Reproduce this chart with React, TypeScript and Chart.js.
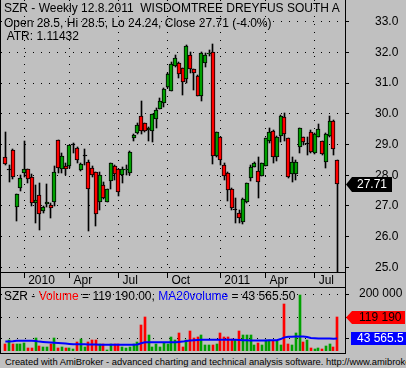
import React, { useEffect, useRef } from 'react';
import { Chart, registerables } from 'chart.js';
Chart.register(...registerables);

const FONT = '"Liberation Sans", Arial, Helvetica, sans-serif';
const GREEN = '#00a000';
const RED = '#ff0000';
const BLUE = '#0000ff';
const BG = '#c0c0c0';

// Weekly OHLC (Dec 2009 .. 12 Aug 2011)
const openP = [28.58, 28.17, 28.81, 26.95, 27.59, 28.06, 28.19, 27.94, 27.10, 27.35,
  26.83, 27.05, 27.02, 27.12, 29.14, 28.20, 28.30, 28.30, 29.00, 28.88,
  28.16, 28.64, 28.44, 28.24, 28.09, 27.14, 27.68, 27.14, 27.81, 28.31,
  28.19, 28.00, 28.18, 28.06, 29.22, 29.36, 29.93, 29.69, 29.47, 29.45,
  29.82, 30.17, 30.36, 30.86, 30.75, 31.57, 31.64, 31.48, 31.12, 31.92,
  31.45, 31.23, 30.59, 31.64, 31.94, 32.02, 28.64, 29.23, 28.33, 28.06,
  27.54, 26.87, 26.76, 26.49, 27.12, 27.90, 28.28, 28.15, 27.98, 28.31,
  29.12, 29.45, 28.60, 29.28, 29.89, 29.20, 28.04, 28.04, 28.91, 29.23,
  29.03, 29.40, 28.71, 29.25, 29.12, 28.44, 29.29, 29.78, 28.5];
const highP = [29.40, 28.33, 28.84, 27.40, 28.00, 29.11, 28.20, 28.03, 27.68, 27.74,
  27.00, 27.71, 27.09, 28.30, 29.14, 28.71, 28.39, 29.00, 29.04, 28.93,
  28.40, 28.85, 28.50, 28.30, 28.11, 28.11, 27.79, 27.55, 28.40, 28.33,
  28.20, 28.28, 28.33, 28.79, 29.33, 29.70, 30.43, 29.70, 29.58, 30.00,
  30.18, 30.50, 30.83, 31.32, 31.70, 31.92, 31.70, 31.50, 32.25, 32.02,
  31.46, 31.25, 32.00, 31.97, 32.08, 32.26, 29.42, 29.25, 28.39, 28.10,
  27.58, 27.25, 26.87, 27.25, 27.76, 28.33, 28.44, 28.60, 28.40, 29.22,
  29.53, 29.46, 29.27, 29.96, 30.02, 29.22, 28.60, 28.50, 29.55, 29.25,
  29.23, 29.47, 29.36, 29.67, 29.13, 29.36, 29.94, 29.80, 28.5];
const lowP = [28.33, 27.79, 27.87, 26.51, 27.50, 27.95, 27.76, 27.01, 26.44, 26.21,
  26.78, 26.97, 26.60, 27.01, 28.08, 28.08, 28.00, 28.24, 28.73, 28.41,
  28.14, 28.33, 26.19, 27.93, 26.35, 26.87, 27.22, 27.13, 27.55, 27.84,
  27.33, 27.74, 28.00, 28.00, 29.12, 29.34, 29.33, 29.42, 29.12, 29.09,
  29.55, 30.15, 30.21, 30.83, 30.74, 31.53, 31.18, 30.61, 30.99, 31.32,
  30.78, 30.57, 30.43, 31.53, 31.88, 28.36, 28.60, 28.33, 27.84, 27.17,
  26.87, 26.43, 26.43, 26.41, 27.10, 27.82, 28.26, 27.25, 27.97, 28.30,
  29.06, 28.39, 28.46, 29.09, 29.12, 27.91, 27.79, 27.85, 28.71, 28.98,
  28.66, 28.72, 28.70, 29.23, 28.65, 28.24, 29.25, 28.66, 24.24];
const closeP = [28.35, 28.17, 27.95, 27.39, 27.92, 28.19, 27.87, 27.08, 27.19, 26.73,
  26.97, 27.14, 26.94, 28.11, 28.24, 28.62, 28.19, 28.97, 29.00, 28.50,
  28.36, 28.64, 27.54, 28.00, 26.73, 28.00, 27.25, 27.54, 28.39, 28.03,
  27.46, 28.20, 28.20, 28.75, 29.30, 29.63, 29.44, 29.44, 29.53, 29.98,
  30.11, 30.42, 30.80, 31.30, 31.63, 31.81, 31.29, 31.05, 32.21, 31.45,
  31.32, 30.59, 31.97, 31.92, 31.99, 28.64, 29.40, 28.50, 27.98, 27.52,
  26.92, 26.87, 26.60, 27.22, 27.74, 28.28, 28.39, 27.79, 28.39, 29.20,
  29.42, 28.60, 29.25, 29.93, 29.33, 27.93, 28.44, 28.44, 29.53, 29.09,
  29.03, 28.75, 29.34, 29.50, 28.68, 29.34, 29.77, 28.86, 27.71];
const volume = [23000, 37000, 23000, 23000, 23000, 27000, 12000, 9000, 44000, 16000,
  13000, 13000, 26000, 44000, 12000, 13000, 12000, 12000, 8000, 33000,
  41000, 13000, 32000, 40000, 40000, 25000, 25000, 5000, 25000, 25000,
  25000, 13000, 11000, 14000, 25000, 30000, 90000, 121000, 58000, 14000,
  23000, 14000, 28000, 26000, 51000, 37000, 65000, 13000, 37000, 69000,
  47000, 51000, 55000, 20000, 21000, 21000, 23000, 62000, 49000, 49000,
  42000, 40000, 69000, 56000, 55000, 55000, 20000, 27000, 20000, 37000,
  37000, 36000, 36000, 21000, 166000, 23000, 21000, 62000, 198000, 30000,
  40000, 9000, 8000, 9000, 8000, 16000, 23000, 13000, 119190];
const ma20 = [33000, 33000, 34000, 36000, 36000, 36000, 36000, 36000, 35000, 33000,
  32000, 31000, 30000, 29000, 28000, 27000, 26000, 25000, 24000, 24000,
  24000, 24000, 23000, 23000, 23000, 22000, 22000, 22000, 22000, 22000,
  22000, 22000, 22000, 22000, 22000, 23000, 27000, 31000, 31000, 31000,
  31000, 31000, 31000, 31000, 31000, 31000, 32000, 33000, 35000, 37000,
  38000, 39000, 40000, 40000, 40000, 40000, 40000, 40000, 40000, 40000,
  40000, 40000, 39000, 38000, 38000, 37000, 37000, 37000, 37000, 37000,
  38000, 38000, 38000, 42000, 48000, 50000, 50000, 51000, 51000, 51000,
  49000, 46000, 45000, 44000, 44000, 44000, 44000, 43000, 43565.5];
const atrValue = 1.11432;

const sepIndex = [5, 17, 30, 43, 57, 69, 82];
const sepLabels = ['2010', 'Apr', 'Jul', 'Oct', '2011', 'Apr', 'Jul'];
const priceTicks = [25, 26, 27, 28, 29, 30, 31, 32, 33];
const volTicks = [43565.5, 119190, 200000];

const X_MIN = -1.15;
const X_MAX = 90.05;
const P_MIN = 24.847;
const P_MAX = 33.707;
const V_MAX = 221600;

function fmtSpace(v: number, dec: number) {
  const s = v.toFixed(dec);
  const parts = s.split('.');
  const intS = parts[0].replace(/\B(?=(\d{3})+(?!\d))/g, ' ');
  return parts.length > 1 ? intS + '.' + parts[1] : intS;
}

const snapPlugin = {
  id: 'snap',
  beforeDatasetsDraw(chart: any) {
    chart.data.datasets.forEach((_ds: any, di: number) => {
      const meta = chart.getDatasetMeta(di);
      if (meta.type !== 'bar') return;
      meta.data.forEach((el: any) => {
        const w = Math.round(el.width);
        el.x = w % 2 === 1 ? Math.floor(el.x) + 0.5 : Math.round(el.x);
        const top = Math.round(Math.min(el.y, el.base));
        let bot = Math.round(Math.max(el.y, el.base));
        if (bot - top < 1) bot = top + 1;
        if (el.y <= el.base) { el.y = top; el.base = bot; } else { el.y = bot; el.base = top; }
      });
    });
  },
};

function tag(ctx: CanvasRenderingContext2D, x0: number, y: number, x1: number, h: number, tip: number, fill: string, text: string, tx: number, color: string) {
  ctx.save();
  ctx.beginPath();
  ctx.moveTo(x0, y);
  ctx.lineTo(x0 + tip, y - h / 2);
  ctx.lineTo(x1, y - h / 2);
  ctx.lineTo(x1, y + h / 2);
  ctx.lineTo(x0 + tip, y + h / 2);
  ctx.closePath();
  ctx.fillStyle = fill;
  ctx.fill();
  ctx.fillStyle = color;
  ctx.font = '12px ' + FONT;
  ctx.textBaseline = 'middle';
  ctx.textAlign = 'left';
  ctx.fillText(text, tx, y + 0.5);
  ctx.restore();
}

const priceOverlay = {
  id: 'priceOverlay',
  afterDraw(chart: any) {
    const { ctx, chartArea: ca, scales } = chart;
    ctx.save();
    ctx.strokeStyle = '#000';
    ctx.lineWidth = 1;
    ctx.setLineDash([]);
    ctx.beginPath();
    ctx.moveTo(0.5, 0); ctx.lineTo(0.5, chart.height);
    ctx.moveTo(ca.right + 0.5, 0); ctx.lineTo(ca.right + 0.5, chart.height);
    ctx.moveTo(0, ca.bottom + 0.5); ctx.lineTo(ca.right, ca.bottom + 0.5);
    ctx.moveTo(0, chart.height - 0.5); ctx.lineTo(ca.right, chart.height - 0.5);
    ctx.stroke();
    ctx.restore();
    const last = closeP[closeP.length - 1];
    const y = Math.round(scales.y.getPixelForValue(last)) + 0.5;
    tag(ctx, ca.right + 1, y, ca.right + 47, 15, 6, '#000', last.toFixed(2), ca.right + 12, '#ffffff');
  },
};

const volOverlay = {
  id: 'volOverlay',
  afterDraw(chart: any) {
    const { ctx, chartArea: ca, scales } = chart;
    ctx.save();
    ctx.strokeStyle = '#000';
    ctx.lineWidth = 1;
    ctx.setLineDash([]);
    ctx.beginPath();
    ctx.moveTo(0.5, 0); ctx.lineTo(0.5, chart.height);
    ctx.moveTo(ca.right + 0.5, 0); ctx.lineTo(ca.right + 0.5, chart.height);
    ctx.moveTo(0, chart.height - 0.5); ctx.lineTo(ca.right, chart.height - 0.5);
    ctx.stroke();
    ctx.restore();
    const lastV = volume[volume.length - 1];
    const lastMa = ma20[ma20.length - 1];
    const yv = Math.round(scales.y.getPixelForValue(lastV)) + 0.5;
    const ym = Math.round(scales.y.getPixelForValue(lastMa)) - 0.5;
    tag(ctx, ca.right + 1, yv, chart.width - 1, 13, 6, RED, fmtSpace(lastV, 0), ca.right + 14, '#000');
    tag(ctx, ca.right + 6, ym, chart.width, 13, 0, BLUE, fmtSpace(lastMa, 1), ca.right + 12, '#ffffff');
  },
};

export default function App() {
  const pRef = useRef<HTMLCanvasElement>(null);
  const vRef = useRef<HTMLCanvasElement>(null);

  useEffect(() => {
    const n = closeP.length;
    const idx = Array.from({ length: n }, (_, i) => i);
    const isDoji = (i: number) => Math.abs(closeP[i] - openP[i]) < 0.005;
    const bodyColor = (i: number) => (isDoji(i) ? '#000' : closeP[i] > openP[i] ? GREEN : RED);
    const volColor = (i: number) => (closeP[i] >= openP[i] ? GREEN : RED);
    const tickFont = { family: FONT, size: 12 };

    const pc = new Chart(pRef.current as HTMLCanvasElement, {
      type: 'bar',
      data: {
        datasets: [
          {
            label: 'body',
            data: idx.map((i) => ({ x: i, y: isDoji(i) ? [openP[i] - 0.016, closeP[i] + 0.016] : [openP[i], closeP[i]] })) as any,
            backgroundColor: idx.map(bodyColor),
            borderColor: '#000',
            borderWidth: 1,
            borderSkipped: false,
            barThickness: 4,
            grouped: false,
            order: 1,
          } as any,
          {
            label: 'wick',
            data: idx.map((i) => ({ x: i, y: [lowP[i], highP[i]] })) as any,
            backgroundColor: '#000',
            borderWidth: 0,
            barThickness: 1,
            grouped: false,
            order: 2,
          } as any,
        ],
      },
      options: {
        responsive: false,
        animation: false,
        events: [],
        layout: { padding: { left: 1, right: 0, top: 0, bottom: 0 }, autoPadding: false } as any,
        plugins: { legend: { display: false }, tooltip: { enabled: false }, title: { display: false } },
        scales: {
          x: {
            type: 'linear',
            position: 'bottom',
            offset: false,
            min: X_MIN,
            max: X_MAX,
            afterBuildTicks: (s: any) => { s.ticks = sepIndex.map((v) => ({ value: v })); },
            afterFit: (s: any) => { s.height = 16; s.paddingLeft = 0; s.paddingRight = 0; },
            grid: { offset: false, color: '#000', lineWidth: 1, drawTicks: true, tickLength: 6, tickColor: '#000', tickBorderDash: [] },
            border: { display: false, dash: [1, 7] },
            ticks: {
              autoSkip: false, maxRotation: 0, minRotation: 0, align: 'start', labelOffset: 4, padding: -5,
              color: '#000', font: tickFont,
              callback: (v: any) => { const k = sepIndex.indexOf(Number(v)); return k >= 0 ? sepLabels[k] : ''; },
            },
          } as any,
          y: {
            position: 'right',
            min: P_MIN,
            max: P_MAX,
            afterBuildTicks: (s: any) => { s.ticks = priceTicks.map((v) => ({ value: v })); },
            afterFit: (s: any) => { s.width = 61; s.paddingTop = 0; s.paddingBottom = 0; },
            grid: { color: '#000', lineWidth: 1, drawTicks: true, tickLength: 4, tickColor: '#000', tickBorderDash: [] },
            border: { display: false, dash: [1, 7] },
            ticks: { padding: 26, color: '#000', font: tickFont, callback: (v: any) => Number(v).toFixed(1) },
          } as any,
        },
      },
      plugins: [snapPlugin, priceOverlay],
    });

    const vc = new Chart(vRef.current as HTMLCanvasElement, {
      type: 'bar',
      data: {
        datasets: [
          {
            type: 'line',
            label: 'MA20volume',
            data: idx.map((i) => ({ x: i, y: ma20[i] })) as any,
            borderColor: BLUE,
            borderWidth: 2,
            pointRadius: 0,
            tension: 0,
            order: 0,
          } as any,
          {
            type: 'bar',
            label: 'Volume',
            data: idx.map((i) => ({ x: i, y: volume[i] })) as any,
            backgroundColor: idx.map(volColor),
            borderWidth: 0,
            barThickness: 2,
            grouped: false,
            order: 1,
          } as any,
        ],
      },
      options: {
        responsive: false,
        animation: false,
        events: [],
        layout: { padding: { left: 1, right: 0, top: 0, bottom: 3 }, autoPadding: false } as any,
        plugins: { legend: { display: false }, tooltip: { enabled: false }, title: { display: false } },
        scales: {
          x: { type: 'linear', offset: false, min: X_MIN, max: X_MAX, display: false, grid: { offset: false } } as any,
          y: {
            position: 'right',
            min: 0,
            max: V_MAX,
            afterBuildTicks: (s: any) => { s.ticks = volTicks.map((v) => ({ value: v })); },
            afterFit: (s: any) => { s.width = 61; s.paddingTop = 0; s.paddingBottom = 0; },
            grid: { color: '#000', lineWidth: 1, drawTicks: true, tickLength: 4, tickColor: '#000', tickBorderDash: [] },
            border: { display: false, dash: [1, 7] },
            ticks: {
              padding: 10, color: '#000', font: tickFont,
              callback: (v: any) => (Number(v) === volTicks[volTicks.length - 1] ? fmtSpace(Number(v), 0) : ''),
            },
          } as any,
        },
      },
      plugins: [snapPlugin, volOverlay],
    });

    return () => { pc.destroy(); vc.destroy(); };
  }, []);

  const n = closeP.length;
  const prevClose = closeP[n - 2];
  const pct = ((closeP[n - 1] / prevClose - 1) * 100).toFixed(1);
  const lastV = volume[n - 1];
  const lastMa = ma20[n - 1];

  const textStyle: React.CSSProperties = {
    position: 'absolute', fontFamily: FONT, fontSize: 12, lineHeight: '14px', color: '#000',
    whiteSpace: 'pre', overflow: 'hidden',
  };

  return (
    <div style={{ position: 'fixed', left: 0, top: 0, width: 406, height: 368, background: BG, overflow: 'hidden' }}>
      <canvas ref={pRef} width={406} height={288} style={{ position: 'absolute', left: 0, top: 0, display: 'block' }} />
      <canvas ref={vRef} width={406} height={66} style={{ position: 'absolute', left: 0, top: 288, display: 'block' }} />
      <div style={{ ...textStyle, left: 4, top: 1.4, width: 336 }}>{'SZR - Weekly 12.8.2011  WISDOMTREE DREYFUS SOUTH AFRICAN RAND FUND'}</div>
      <div style={{ ...textStyle, left: 4, top: 16.1, width: 336 }}>{`Open ${openP[n - 1]}, Hi ${highP[n - 1]}, Lo ${lowP[n - 1]}, Close ${closeP[n - 1]} (${pct}%)`}</div>
      <div style={{ ...textStyle, left: 4, top: 29.1, width: 336 }}>{` ATR: ${atrValue}`}</div>
      <div style={{ ...textStyle, left: 4, top: 289.1, width: 340 }}>
        <span>{'SZR - '}</span>
        <span style={{ color: RED }}>Volume</span>
        <span>{` = ${fmtSpace(lastV, 2)}, `}</span>
        <span style={{ color: BLUE }}>MA20volume</span>
        <span>{` = ${fmtSpace(lastMa, 2)}`}</span>
      </div>
      <div style={{ ...textStyle, left: 5, top: 355.9, width: 401, fontSize: 9.4, lineHeight: '11px' }}>
        {'Created with AmiBroker - advanced charting and technical analysis software. http://www.amibroker.com'}
      </div>
    </div>
  );
}
